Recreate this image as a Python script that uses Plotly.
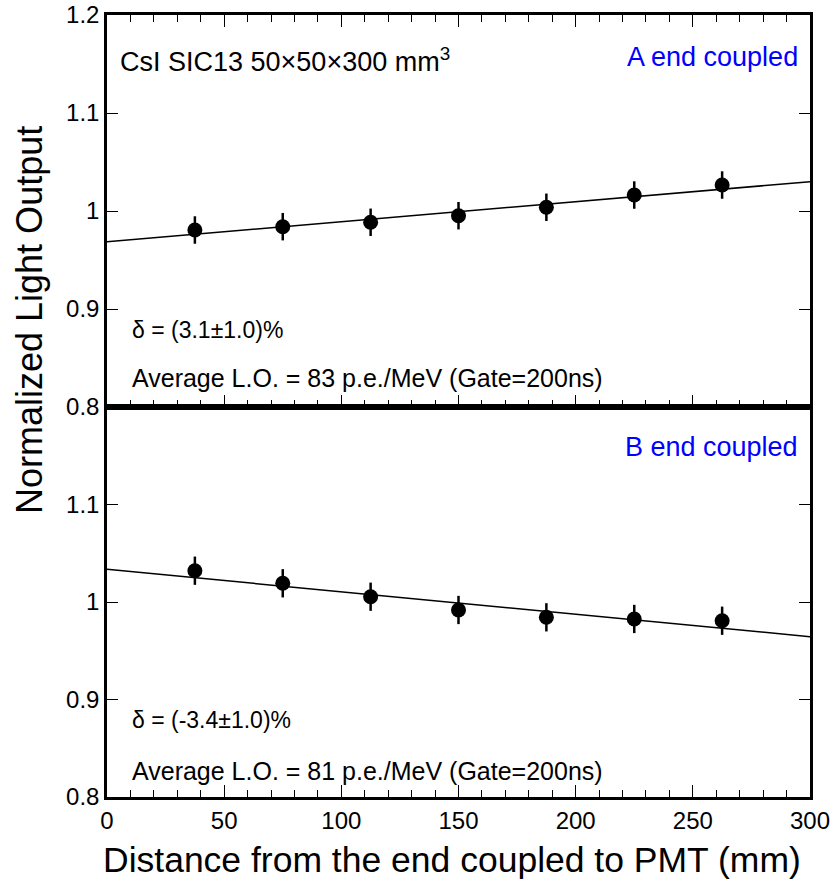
import plotly.graph_objects as go

# ---- data ----
distance = [37.5, 75, 112.5, 150, 187.5, 225, 262.5]
a_light = [0.9806, 0.984, 0.9885, 0.9952, 1.0038, 1.0163, 1.0265]
a_err = [0.014, 0.014, 0.014, 0.014, 0.014, 0.014, 0.014]
b_light = [1.0321, 1.0192, 1.0054, 0.9918, 0.9843, 0.9826, 0.9808]
b_err = [0.0145, 0.0145, 0.0145, 0.0145, 0.0145, 0.0145, 0.0145]
fit_x = [0, 300]
a_fit = [0.9687, 1.0299]
b_fit = [1.0335, 0.9644]
x_ticks = [0, 50, 100, 150, 200, 250, 300]
y_ticks_top = [0.8, 0.9, 1.0, 1.1, 1.2]
y_ticks_bot = [0.8, 0.9, 1.0, 1.1]

FONT = "Liberation Sans, Arial, sans-serif"
split = 390 / 782

fig = go.Figure()

def add_panel(yvals, errs, fit, xref, yref):
    fig.add_trace(go.Scatter(x=fit_x, y=fit, mode="lines",
                             line=dict(color="black", width=1.5),
                             xaxis=xref, yaxis=yref, showlegend=False))
    fig.add_trace(go.Scatter(x=distance, y=yvals, mode="markers",
                             marker=dict(color="black", size=15),
                             error_y=dict(type="data", array=errs, thickness=2.5,
                                          width=0, color="black"),
                             xaxis=xref, yaxis=yref, showlegend=False))

add_panel(a_light, a_err, a_fit, "x2", "y2")
add_panel(b_light, b_err, b_fit, "x", "y")

xcommon = dict(range=[0, 300], showgrid=False, zeroline=False, showline=True,
               linecolor="black", linewidth=2.5, ticks="inside", tickcolor="black",
               ticklen=12, tickwidth=1.2, tickvals=x_ticks, automargin=False,
               ticklabeloverflow="allow",
               minor=dict(dtick=10, ticks="inside", ticklen=7, tickcolor="black", tickwidth=1.2),
               tickfont=dict(family=FONT, size=24, color="black"))
ycommon = dict(range=[0.8, 1.2], showgrid=False, zeroline=False, showline=True,
               linecolor="black", linewidth=2.5, ticks="inside", tickcolor="black",
               ticklen=11, tickwidth=1.2, mirror="ticks", automargin=False,
               ticklabeloverflow="allow",
               tickfont=dict(family=FONT, size=24, color="black"))

fig.update_layout(
    width=839, height=880,
    margin=dict(l=107, r=29, t=15, b=83),
    plot_bgcolor="white", paper_bgcolor="white",
    xaxis=dict(**xcommon, anchor="y", mirror=True),
    yaxis=dict(**ycommon, domain=[0, split], tickvals=y_ticks_bot),
    xaxis2=dict(**xcommon, anchor="y2", matches="x", showticklabels=False, mirror="ticks"),
    yaxis2=dict(**ycommon, domain=[split, 1], tickvals=y_ticks_top),
)

def ann(text, x, y, xref, yref, xanchor="left", color="black", size=25):
    fig.add_annotation(text=text, x=x, y=y, xref=xref, yref=yref, xanchor=xanchor,
                       yanchor="middle", showarrow=False,
                       font=dict(family=FONT, size=size, color=color))

ann("CsI SIC13 50×50×300 mm<sup>3</sup>", 4.7, 1.154, "x2", "y2", size=27)
ann("A end coupled", 295.8, 1.1574, "x2", "y2", xanchor="right", color="blue", size=27)
ann("δ = (3.1±1.0)%", 9.8, 0.8786, "x2", "y2", size=23)
ann("Average L.O. = 83 p.e./MeV (Gate=200ns)", 9.8, 0.8296, "x2", "y2")
ann("B end coupled", 295.8, 1.159, "x", "y", xanchor="right", color="blue", size=27)
ann("δ = (-3.4±1.0)%", 9.8, 0.879, "x", "y", size=23)
ann("Average L.O. = 81 p.e./MeV (Gate=200ns)", 9.8, 0.8267, "x", "y")

fig.add_annotation(text="Normalized Light Output", x=-0.1095, y=0.61, xref="paper",
                   yref="paper", textangle=-90, showarrow=False, xanchor="center",
                   yanchor="middle", font=dict(family=FONT, size=36, color="black"))
fig.add_annotation(text="Distance from the end coupled to PMT (mm)", x=0.4908, y=-0.0803,
                   xref="paper", yref="paper", showarrow=False, xanchor="center",
                   yanchor="middle", font=dict(family=FONT, size=35.5, color="black"))

fig.write_html("out.html")
